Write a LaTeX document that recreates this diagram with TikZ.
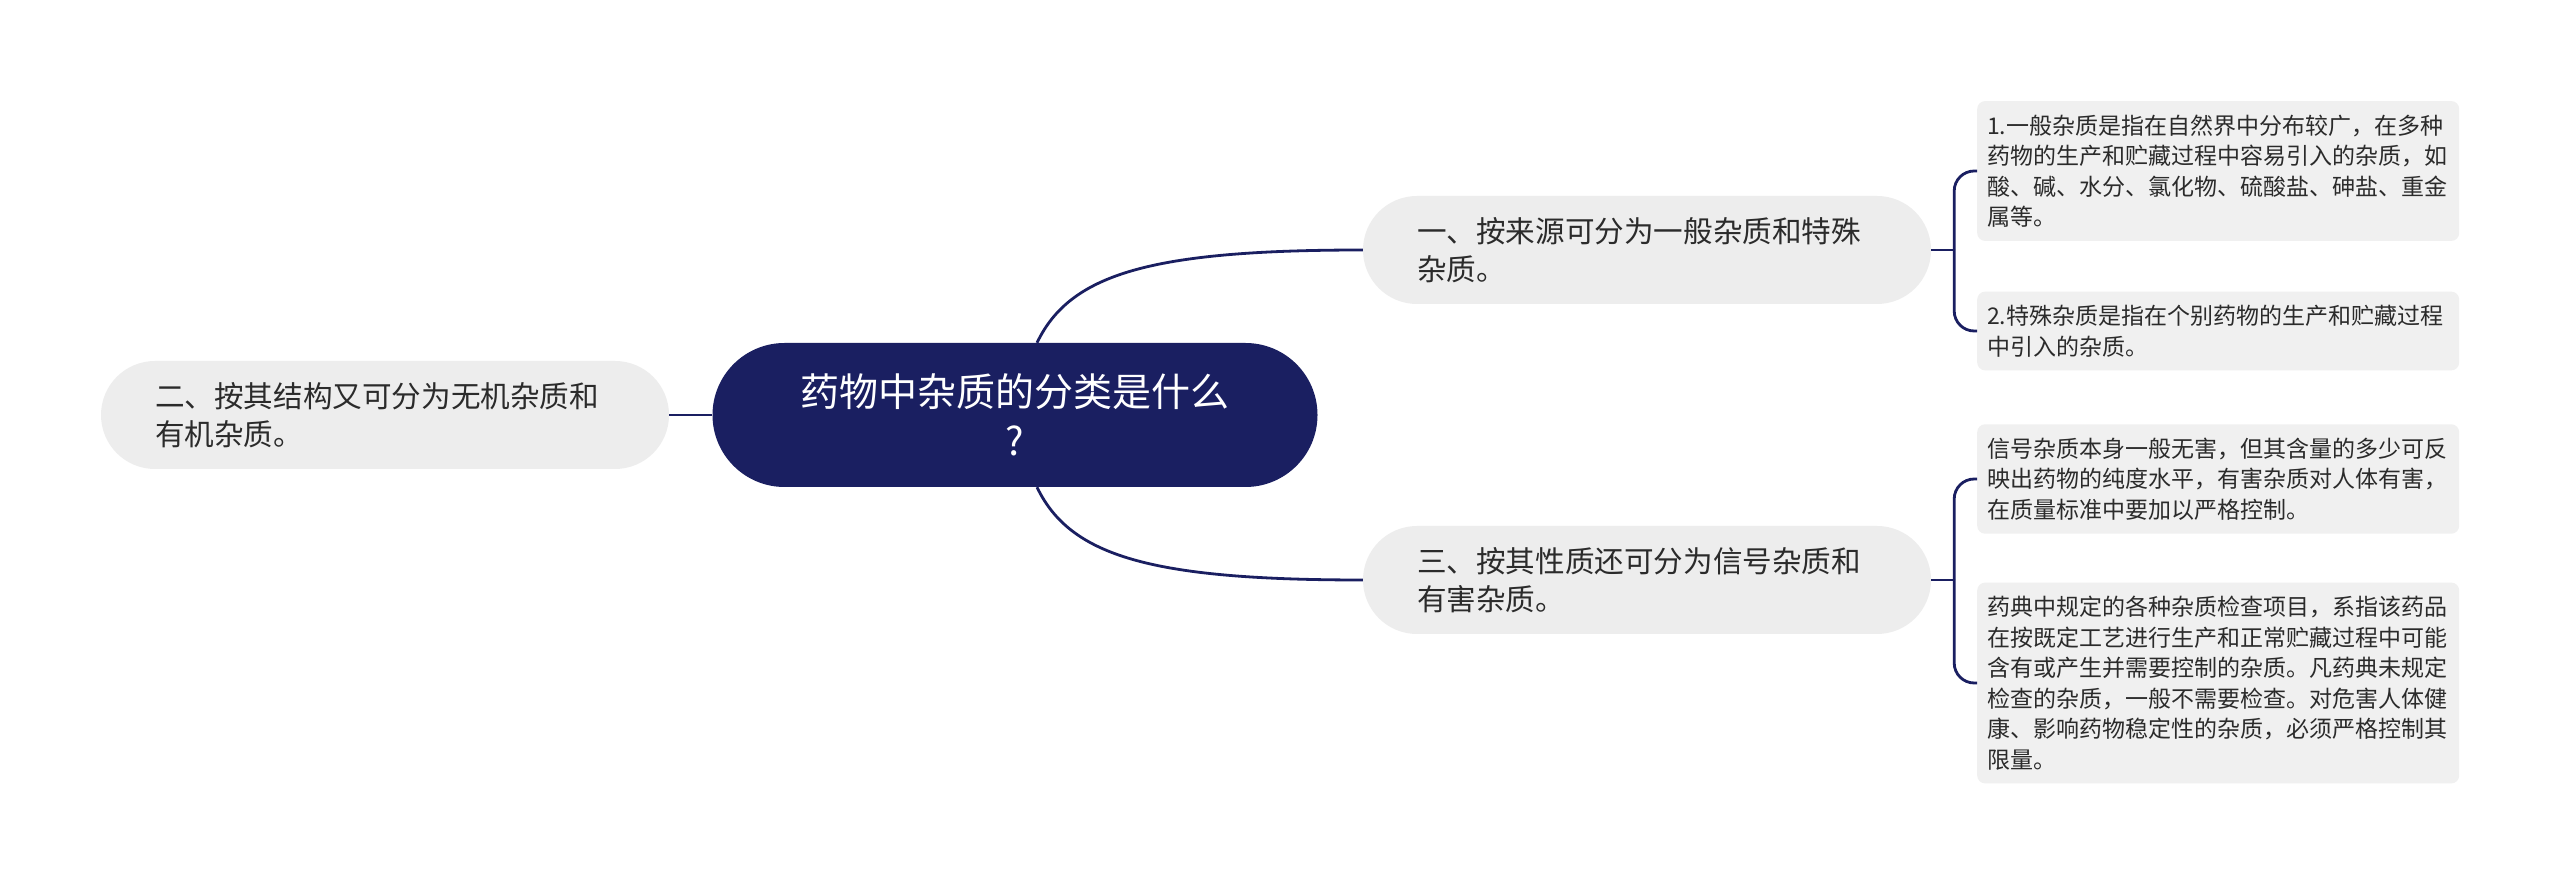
\documentclass[tikz,border=0pt]{standalone}
\usepackage{fontspec}
\setmainfont{Noto Sans CJK SC}
\definecolor{navy}{HTML}{1A1F61}
\definecolor{boxgrey}{HTML}{EDEDED}
\definecolor{leafgrey}{HTML}{F0F0F0}
\definecolor{ink}{HTML}{2B2B2B}

\begin{document}
\begin{tikzpicture}[x=1pt,y=1pt,
		root node/.style={fill=navy,text=white,rounded corners=72pt,minimum width=605pt,minimum height=144pt,align=center,font=\fontsize{39}{49}\selectfont},
		main node/.style={fill=boxgrey,text=ink,rounded corners=54pt,text width=460pt,inner xsep=54pt,minimum height=108pt,align=left,font=\fontsize{29.6}{37.5}\selectfont},
		leaf node/.style={fill=leafgrey,text=ink,rounded corners=8pt,text width=462pt,inner xsep=10pt,inner ysep=13.5pt,anchor=west,align=left,font=\fontsize{23}{30.5}\selectfont},
		link/.style={draw=navy,line width=2.8pt}]
		\fill[white] (0,0) rectangle (2560,884);
		\useasboundingbox (0,0) rectangle (2560,884);
		\node[root node] (root) at (1015,469) {药物中杂质的分类是什么\\?};
		\node[main node] (left) at (385,469) {二、按其结构又可分为无机杂质和\\有机杂质。};
		\node[main node] (src) at (1647,634) {一、按来源可分为一般杂质和特殊\\杂质。};
		\node[main node] (prop) at (1647,304) {三、按其性质还可分为信号杂质和\\有害杂质。};
		\node[leaf node] (gen) at (1977,713) {1.一般杂质是指在自然界中分布较广，在多种\\药物的生产和贮藏过程中容易引入的杂质，如\\酸、碱、水分、氯化物、硫酸盐、砷盐、重金\\属等。};
		\node[leaf node] (spec) at (1977,553) {2.特殊杂质是指在个别药物的生产和贮藏过程\\中引入的杂质。};
		\node[leaf node] (sig) at (1977,405) {信号杂质本身一般无害，但其含量的多少可反\\映出药物的纯度水平，有害杂质对人体有害，\\在质量标准中要加以严格控制。};
		\node[leaf node] (pharm) at (1977,201) {药典中规定的各种杂质检查项目，系指该药品\\在按既定工艺进行生产和正常贮藏过程中可能\\含有或产生并需要控制的杂质。凡药典未规定\\检查的杂质，一般不需要检查。对危害人体健\\康、影响药物稳定性的杂质，必须严格控制其\\限量。};
		\coordinate (j1) at ([xshift=23pt]src.east);
		\coordinate (j2) at ([xshift=23pt]prop.east);
		% branches from the root
		\draw[link] ([xshift=22pt]root.north) .. controls (1070,610) and (1150,634) .. (src.west);
		\draw[link] ([xshift=22pt]root.south) .. controls (1070,328) and (1150,304) .. (prop.west);
		\draw[link] (root.west) -- (left.east);
		% brackets to the leaves
		\draw[link] (src.east) -- (j1);
		\draw[link,rounded corners=20pt] (j1) |- (gen.west);
		\draw[link,rounded corners=20pt] (j1) |- (spec.west);
		\draw[link] (prop.east) -- (j2);
		\draw[link,rounded corners=20pt] (j2) |- (sig.west);
		\draw[link,rounded corners=20pt] (j2) |- (pharm.west);
\end{tikzpicture}
\end{document}
